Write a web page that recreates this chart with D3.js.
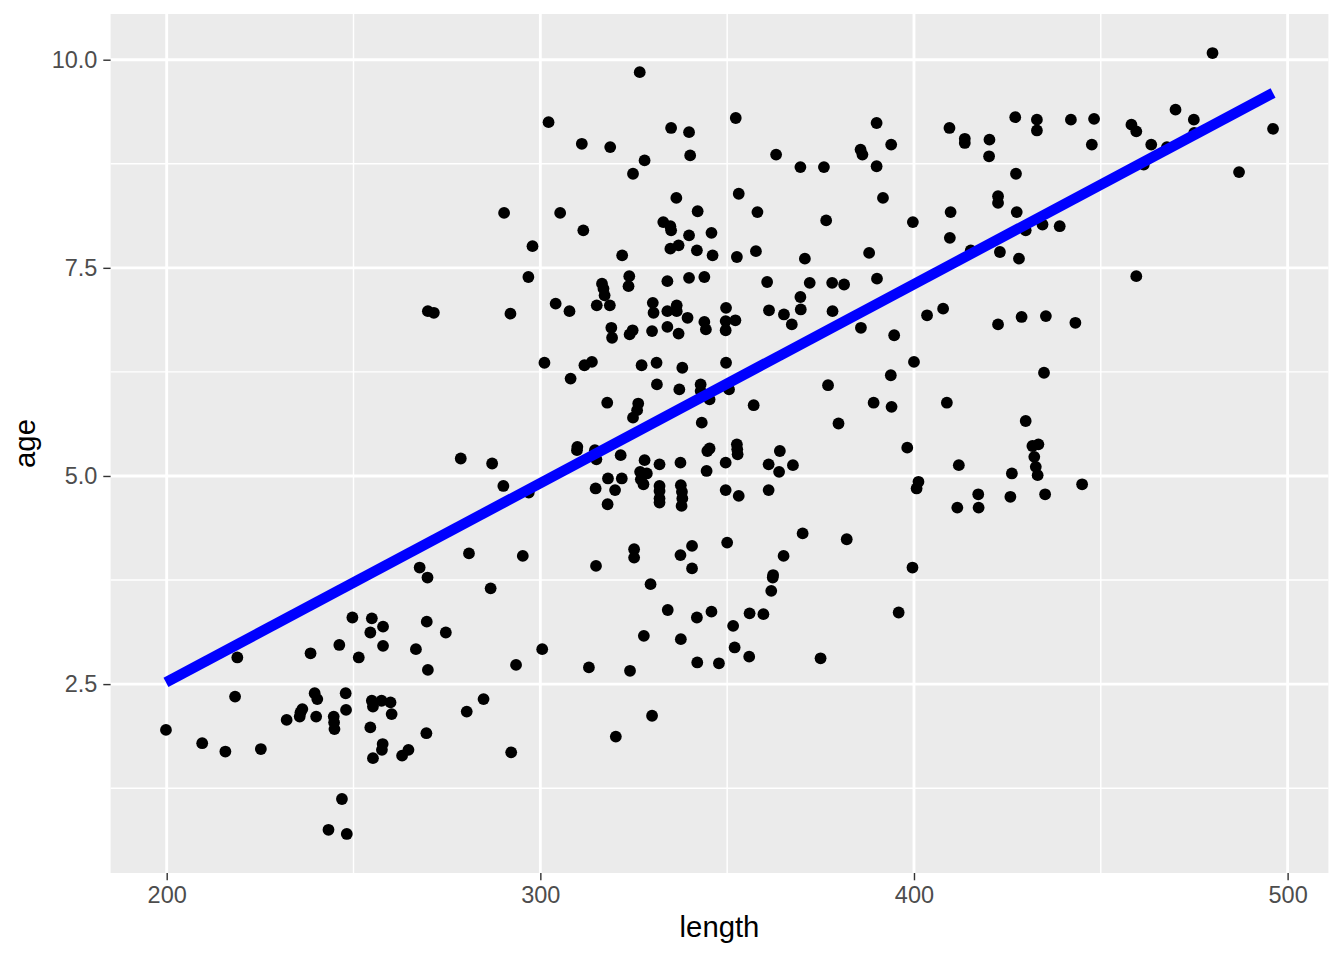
<!DOCTYPE html>
<html><head><meta charset="utf-8">
<script src="https://cdn.jsdelivr.net/npm/d3@7"></script>
<style>body{margin:0;background:#fff}</style>
</head><body>
<svg id="chart" width="1344" height="960"></svg>
<script>
const lengths = [
199.8,209.5,215.7,225.2,218.3,218.9,238.5,246.2,249.7,251.4,
254.9,254.5,257.9,257.9,266.7,269.6,269.9,269.8,267.7,274.7,
239.6,240.3,247.9,248.0,235.8,236.3,235.6,232.1,240.0,244.7,
244.8,244.9,254.9,255.2,257.5,259.9,260.2,254.5,269.5,257.8,
257.6,255.2,264.7,263.0,246.9,243.3,248.2,269.9,271.5,
286.7,293.5,300.5,313.0,324.0,327.7,329.5,334.1,337.6,341.9,345.8,342.0,347.8,284.8,280.3,292.2,329.9,320.2,
361.8,362.2,356.0,359.7,351.6,352.0,355.9,375.0,395.9,
326.6,302.2,311.1,318.7,335.0,339.8,340.1,327.9,324.8,336.4,
342.1,290.3,305.3,311.5,297.9,296.8,332.9,334.8,335.0,339.8,
345.8,334.8,337.0,341.9,346.1,321.9,323.8,323.6,316.5,316.9,
317.2,315.1,318.6,304.1,307.8,292.0,330.1,330.3,334.0,339.8,
343.9,336.5,334.0,336.5,339.4,
343.9,344.3,319.0,319.2,323.9,324.7,329.9,334.0,337.0,301.1,
311.8,313.8,308.1,327.1,331.1,338.0,331.2,337.2,342.9,342.9,
345.3,317.9,326.2,325.9,324.8,343.2,345.3,344.7,344.5,278.7,
287.1,290.1,296.9,309.9,309.8,314.6,315.0,321.5,327.9,331.9,
337.5,318.1,321.8,320.0,314.8,318.0,326.7,328.5,326.9,327.6,
331.9,331.9,331.9,331.9,337.6,337.9,338.0,337.8,280.9,295.3,
314.9,325.1,325.1,337.5,340.6,340.6,
352.3,390.0,409.5,413.6,413.6,420.2,420.1,363.1,369.6,375.9,
385.7,386.2,393.9,390.0,353.1,358.1,391.7,376.5,399.7,409.8,
409.6,415.2,422.5,422.5,352.6,357.7,370.8,388.0,390.1,360.7,
372.1,378.1,381.3,369.6,349.7,361.2,365.2,369.7,378.2,403.5,
407.8,349.6,352.2,349.6,
367.3,385.8,394.7,422.5,349.7,400.0,393.8,377.0,350.5,357.1,
389.2,394.0,408.8,379.8,398.2,412.0,352.6,352.7,352.8,349.6,
364.1,361.1,367.6,363.9,349.6,353.1,361.1,401.2,400.7,417.2,
411.6,417.3,350.0,370.2,382.0,365.1,362.3,399.6,
479.9,427.1,432.9,432.9,442.0,448.2,447.6,458.2,459.5,470.0,
474.9,475.0,463.5,467.7,461.5,496.1,487.0,459.5,427.3,427.5,
429.9,434.4,439.0,423.0,428.1,428.8,435.3,443.2,
434.8,429.9,433.3,431.7,432.2,432.6,433.1,426.2,425.8,435.1,445.0
];
const ages = [
1.95,1.79,1.69,1.72,2.35,2.82,2.87,2.97,3.30,2.82,
3.29,3.12,3.19,2.96,2.92,3.25,2.67,3.78,3.90,3.12,
2.39,2.32,2.39,2.19,2.16,2.20,2.11,2.07,2.11,2.11,
2.04,1.96,2.30,2.23,2.30,2.28,2.14,1.98,1.91,1.78,
1.71,1.61,1.71,1.64,1.12,0.75,0.70,6.98,6.96,
3.65,2.73,2.92,2.70,2.66,3.08,3.70,3.39,3.04,3.30,3.37,2.76,2.75,2.32,2.17,1.68,2.12,1.87,
3.62,3.78,3.35,3.34,3.20,2.94,2.83,2.81,3.36,
9.85,9.25,8.99,8.95,9.18,9.13,8.85,8.79,8.63,8.34,
8.18,8.16,8.16,7.95,7.76,7.39,8.05,8.00,7.95,7.89,
7.92,7.73,7.77,7.71,7.65,7.65,7.40,7.28,7.31,7.25,
7.17,7.05,7.05,7.07,6.98,6.95,7.08,6.96,7.34,7.38,
7.39,7.05,6.98,6.98,6.90,
6.85,6.76,6.78,6.66,6.70,6.75,6.74,6.79,6.71,6.36,
6.33,6.37,6.17,6.33,6.36,6.30,6.10,6.04,6.10,6.02,
5.92,5.88,5.87,5.79,5.70,5.64,5.33,5.30,5.06,5.21,
5.15,4.88,4.80,5.35,5.31,5.31,5.20,5.25,5.19,5.14,
5.16,4.97,4.97,4.83,4.85,4.66,5.05,5.03,4.96,4.90,
4.88,4.82,4.73,4.68,4.89,4.81,4.73,4.64,4.07,4.04,
3.92,4.12,4.02,4.05,4.16,3.89,
9.30,9.24,9.18,9.05,9.00,9.04,8.84,8.86,8.71,8.71,
8.92,8.86,8.98,8.72,8.39,8.17,8.34,8.07,8.05,8.17,
7.86,7.71,8.36,8.28,7.63,7.70,7.61,7.68,7.37,7.33,
7.32,7.32,7.30,7.15,7.02,6.99,6.94,7.00,6.98,6.93,
7.01,6.86,6.87,6.75,
6.82,6.78,6.69,6.82,6.36,6.37,6.21,6.09,6.04,5.85,
5.88,5.83,5.88,5.63,5.34,5.13,5.38,5.32,5.26,5.16,
5.30,5.14,5.13,5.05,4.83,4.76,4.83,4.93,4.85,4.78,
4.62,4.62,4.20,4.31,4.24,4.04,3.81,3.90,
10.08,9.31,9.28,9.15,9.28,9.29,8.98,9.22,9.14,9.40,
9.28,9.12,8.98,8.95,8.74,9.17,8.65,7.40,8.63,8.17,
7.95,8.02,8.00,7.69,7.61,6.91,6.92,6.84,
6.24,5.66,5.38,5.36,5.23,5.11,5.01,5.03,4.75,4.78,4.90
];
// fitted linear trend (geom_smooth, method = "lm"), read at the data range ends
const fitLengths = [199.8, 496.1];
const fitAges = [2.52, 9.60];
const xTicks = [200, 300, 400, 500];
const xMinorTicks = [250, 350, 450];
const yTicks = [2.5, 5.0, 7.5, 10.0];
const yMinorTicks = [1.25, 3.75, 6.25, 8.75];
const xTitle = "length";
const yTitle = "age";

const data = lengths.map((l, i) => ({x: l, y: ages[i]}));
const fit = fitLengths.map((l, i) => ({x: l, y: fitAges[i]}));

const panel = {left: 110.6, right: 1328.4, top: 14, bottom: 873};
const xExt = d3.extent(lengths), yExt = d3.extent(ages);
const xPad = (xExt[1] - xExt[0]) * 0.05, yPad = (yExt[1] - yExt[0]) * 0.05;
const x = d3.scaleLinear().domain([xExt[0] - xPad, xExt[1] + xPad]).range([panel.left, panel.right]);
const y = d3.scaleLinear().domain([yExt[0] - yPad, yExt[1] + yPad]).range([panel.bottom, panel.top]);

const svg = d3.select("#chart");
const font = "'Liberation Sans', Arial, Helvetica, sans-serif";

svg.append("rect").attr("x", panel.left).attr("y", panel.top)
  .attr("width", panel.right - panel.left).attr("height", panel.bottom - panel.top)
  .attr("fill", "#EBEBEB");

const grid = svg.append("g");
grid.selectAll(".xmin").data(xMinorTicks).join("line")
  .attr("x1", d => x(d)).attr("x2", d => x(d)).attr("y1", panel.top).attr("y2", panel.bottom)
  .attr("stroke", "#fff").attr("stroke-width", 1.42);
grid.selectAll(".ymin").data(yMinorTicks).join("line")
  .attr("y1", d => y(d)).attr("y2", d => y(d)).attr("x1", panel.left).attr("x2", panel.right)
  .attr("stroke", "#fff").attr("stroke-width", 1.42);
grid.selectAll(".xmaj").data(xTicks).join("line")
  .attr("x1", d => x(d)).attr("x2", d => x(d)).attr("y1", panel.top).attr("y2", panel.bottom)
  .attr("stroke", "#fff").attr("stroke-width", 2.85);
grid.selectAll(".ymaj").data(yTicks).join("line")
  .attr("y1", d => y(d)).attr("y2", d => y(d)).attr("x1", panel.left).attr("x2", panel.right)
  .attr("stroke", "#fff").attr("stroke-width", 2.85);

// points
svg.append("g").selectAll("circle").data(data).join("circle")
  .attr("cx", d => x(d.x)).attr("cy", d => y(d.y)).attr("r", 5.9).attr("fill", "#000");

// linear fit line
svg.append("path").datum(fit)
  .attr("d", d3.line().x(d => x(d.x)).y(d => y(d.y)))
  .attr("fill", "none").attr("stroke", "#0000FF").attr("stroke-width", 10.5).attr("stroke-linecap", "butt");

// axes
const xAxis = svg.append("g").attr("transform", `translate(0,${panel.bottom})`)
  .call(d3.axisBottom(x).tickValues(xTicks).tickFormat(d3.format("d")).tickSize(7.3).tickPadding(5.9));
const yAxis = svg.append("g").attr("transform", `translate(${panel.left},0)`)
  .call(d3.axisLeft(y).tickValues(yTicks).tickFormat(d3.format(".1f")).tickSize(7.3).tickPadding(5.9));
[xAxis, yAxis].forEach(a => {
  a.select(".domain").remove();
  a.selectAll(".tick line").attr("stroke", "#333333").attr("stroke-width", 1.42);
  a.selectAll(".tick text").attr("fill", "#4D4D4D").style("font-size", "23.5px").style("font-family", font);
});

svg.append("text").attr("x", (panel.left + panel.right) / 2).attr("y", 937)
  .attr("text-anchor", "middle").style("font-size", "29.3px").style("font-family", font)
  .attr("fill", "#000").text(xTitle);
svg.append("text").attr("transform", `translate(35,${(panel.top + panel.bottom) / 2}) rotate(-90)`)
  .attr("text-anchor", "middle").style("font-size", "29.3px").style("font-family", font)
  .attr("fill", "#000").text(yTitle);
</script>
</body></html>
